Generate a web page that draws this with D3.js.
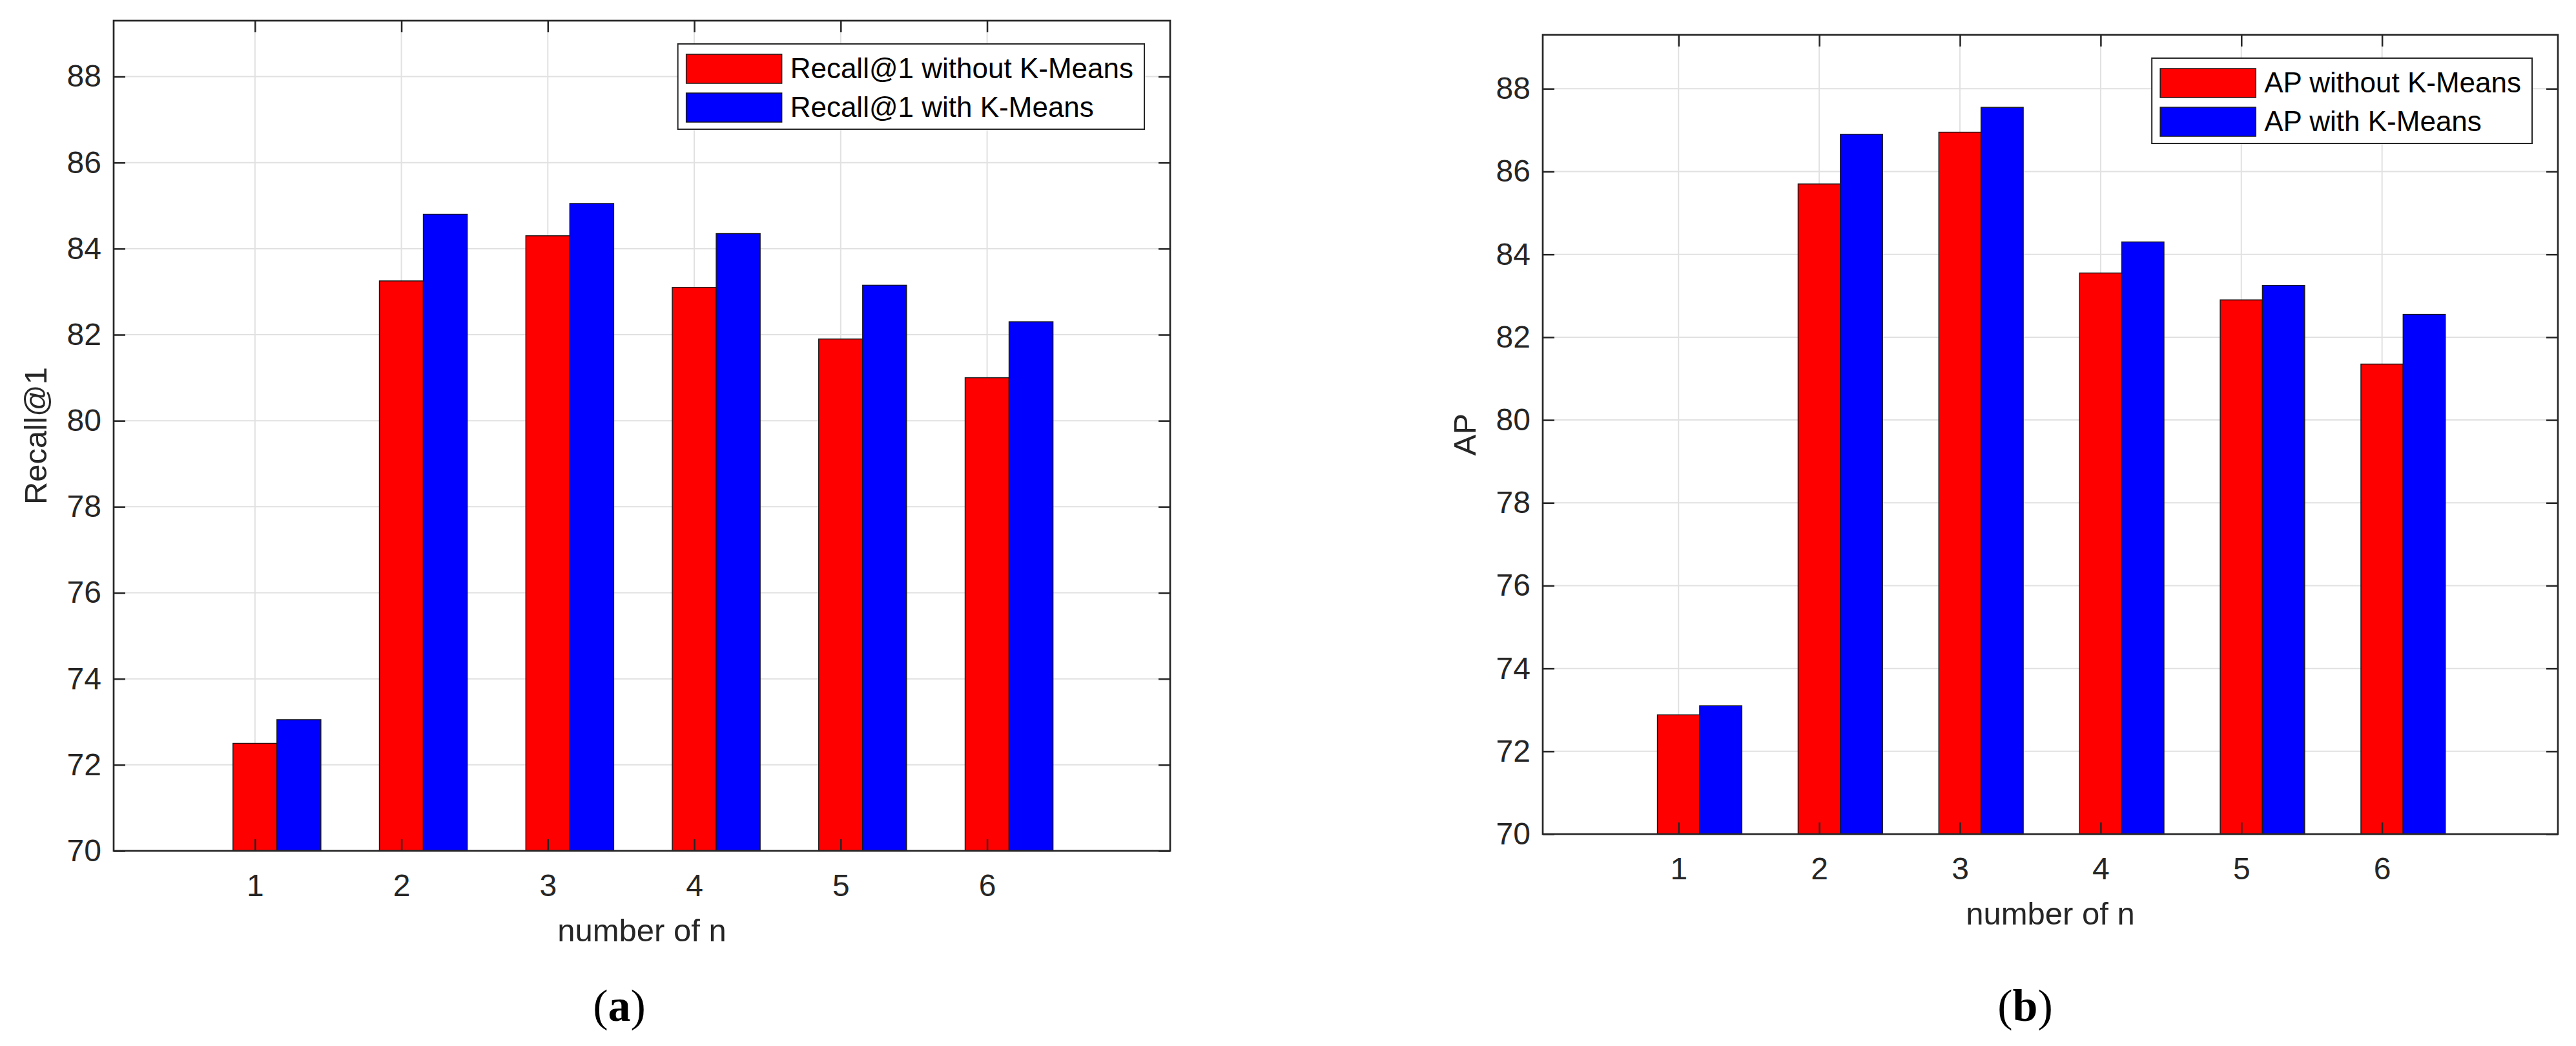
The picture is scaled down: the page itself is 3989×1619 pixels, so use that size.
<!DOCTYPE html>
<meta charset="utf-8">
<script src="https://d3js.org/d3.v7.min.js"></script>
<style>
body { margin: 0; background: #fff; }
text { font-family: "Liberation Sans", Arial, sans-serif; fill: #262626; }
.grid line { stroke: #e1e1e1; stroke-width: 2; }
.axis line { stroke: #262626; stroke-width: 2.5; }
.axis path { display: none; }
.axis text { font-size: 48px; }
.frame { fill: none; stroke: #262626; stroke-width: 2.7; }
.bar { stroke: #1a1a1a; stroke-width: 1.5; }
.label { font-size: 49px; }
.legend text { font-size: 44px; fill: #000; }
.legend .box { fill: #fff; stroke: #262626; stroke-width: 2; }
.caption { font-family: "Liberation Serif", "Times New Roman", serif; font-size: 70px; fill: #000; }
</style>
<body>
<svg id="fig" width="3989" height="1619"></svg>
<script>

// data ---------------------------------------------------------------
var categories = [1, 2, 3, 4, 5, 6];
var yTicks = [70, 72, 74, 76, 78, 80, 82, 84, 86, 88];

var recallWithout = [72.5, 83.25, 84.3, 83.1, 81.9, 81.0];
var recallWith    = [73.05, 84.8, 85.05, 84.35, 83.15, 82.3];
var apWithout     = [72.88, 85.7, 86.95, 83.55, 82.9, 81.35];
var apWith        = [73.1, 86.9, 87.55, 84.3, 83.25, 82.55];

var recallLegend = ["Recall@1 without K-Means", "Recall@1 with K-Means"];
var apLegend     = ["AP without K-Means", "AP with K-Means"];

var xLimits = [0.035, 7.25];
var yLimits = [70, 89.3];
var barWidth = 0.3;
var colors = ["#ff0000", "#0000ff"];

var svg = d3.select("#fig");

function panel(p) {
	var x = d3.scaleLinear().domain(xLimits).range([p.left, p.right]);
	var y = d3.scaleLinear().domain(yLimits).range([p.bottom, p.top]);
	var g = svg.append("g");

	// grid
	var grid = g.append("g").attr("class", "grid");
	grid.selectAll(".h").data(yTicks).enter().append("line")
		.attr("x1", p.left).attr("x2", p.right)
		.attr("y1", function(d) { return y(d); })
		.attr("y2", function(d) { return y(d); });
	grid.selectAll(".v").data(categories).enter().append("line")
		.attr("y1", p.top).attr("y2", p.bottom)
		.attr("x1", function(d) { return x(d); })
		.attr("x2", function(d) { return x(d); });

	// bars: red centred on the tick, blue right next to it
	[p.without, p.with].forEach(function(vals, s) {
		g.selectAll(".bar-s" + s).data(vals).enter().append("rect")
			.attr("class", "bar bar-s" + s)
			.attr("fill", colors[s])
			.attr("x", function(d, i) { return x(categories[i] - barWidth / 2 + s * barWidth); })
			.attr("width", x(barWidth) - x(0))
			.attr("y", function(d) { return y(d); })
			.attr("height", function(d) { return y(yLimits[0]) - y(d); });
	});

	// axes (ticks point inward, like matlab)
	g.append("g").attr("class", "axis")
		.attr("transform", "translate(" + p.left + ",0)")
		.call(d3.axisLeft(y).tickValues(yTicks).tickSize(-18).tickPadding(19));
	g.append("g").attr("class", "axis")
		.attr("transform", "translate(" + p.right + ",0)")
		.call(d3.axisRight(y).tickValues(yTicks).tickSize(-18).tickFormat(""));
	g.append("g").attr("class", "axis")
		.attr("transform", "translate(0," + p.bottom + ")")
		.call(d3.axisBottom(x).tickValues(categories).tickSize(-18).tickPadding(36).tickFormat(d3.format("d")));
	g.append("g").attr("class", "axis")
		.attr("transform", "translate(0," + p.top + ")")
		.call(d3.axisTop(x).tickValues(categories).tickSize(-18).tickFormat(""));

	g.append("rect").attr("class", "frame")
		.attr("x", p.left).attr("y", p.top)
		.attr("width", p.right - p.left).attr("height", p.bottom - p.top);

	// axis labels
	g.append("text").attr("class", "label")
		.attr("x", (p.left + p.right) / 2)
		.attr("y", p.bottom + 140)
		.style("text-anchor", "middle")
		.text("number of n");
	g.append("text").attr("class", "label")
		.attr("transform", "translate(" + (p.left - 121) + "," + (p.top + p.bottom) / 2 + ") rotate(-90)")
		.attr("dy", ".35em")
		.style("text-anchor", "middle")
		.text(p.ylabel);

	// legend, top right inside the axes
	var top = p.top + 36;
	var lg = g.append("g").attr("class", "legend");
	var box = lg.append("rect").attr("class", "box");
	var swatches = [], texts = [];
	p.legend.forEach(function(t, i) {
		swatches.push(lg.append("rect").attr("class", "bar")
			.attr("fill", colors[i])
			.attr("width", 148).attr("height", 45)
			.attr("y", top + 16 + i * 60));
		texts.push(lg.append("text")
			.attr("y", top + 16 + i * 60 + 22)
			.attr("dy", ".35em")
			.text(t));
	});
	var tw = d3.max(texts, function(t) { return t.node().getComputedTextLength(); });
	var bw = 13 + 148 + 13 + tw + 17;
	var bx = p.right - 40 - bw;
	box.attr("x", bx).attr("y", top).attr("width", bw).attr("height", 132);
	swatches.forEach(function(r) { r.attr("x", bx + 13); });
	texts.forEach(function(t) { t.attr("x", bx + 13 + 148 + 13); });

	// caption
	var cap = g.append("text").attr("class", "caption")
		.attr("x", p.captionX).attr("y", 1580)
		.style("text-anchor", "middle");
	cap.append("tspan").text("(");
	cap.append("tspan").style("font-weight", "bold").text(p.caption);
	cap.append("tspan").text(")");
}

panel({left: 176, right: 1812, top: 32, bottom: 1317,
	without: recallWithout, with: recallWith,
	ylabel: "Recall@1", legend: recallLegend, caption: "a", captionX: 959});

panel({left: 2389, right: 3961, top: 54, bottom: 1291,
	without: apWithout, with: apWith,
	ylabel: "AP", legend: apLegend, caption: "b", captionX: 3136});

</script>
</body>
